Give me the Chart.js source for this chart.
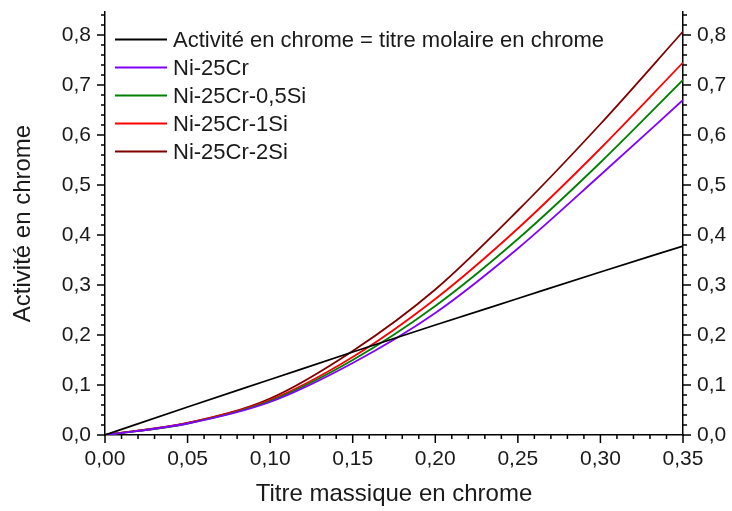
<!DOCTYPE html>
<html>
<head>
<meta charset="utf-8">
<script src="https://cdn.jsdelivr.net/npm/chart.js@4/dist/chart.umd.min.js"></script>
<style>
  html, body { margin: 0; padding: 0; background: #fff; }
  #wrap { width: 732px; height: 511px; }
</style>
</head>
<body>
<div id="wrap"><canvas id="activityChart"></canvas></div>
<script>
// titre massique en chrome (x)
const titreMassique = [0, 0.05, 0.10, 0.15, 0.20, 0.25, 0.30, 0.35];

// activité en chrome
const titreMolaire   = [0, 0.056, 0.111, 0.166, 0.220, 0.273, 0.326, 0.378];
const ni25Cr         = [0, 0.023, 0.066, 0.144, 0.244, 0.373, 0.520, 0.670];
const ni25Cr05Si     = [0, 0.023, 0.068, 0.150, 0.258, 0.392, 0.545, 0.710];
const ni25Cr1Si      = [0, 0.024, 0.070, 0.156, 0.272, 0.413, 0.573, 0.745];
const ni25Cr2Si      = [0, 0.024, 0.073, 0.168, 0.291, 0.449, 0.622, 0.807];

const seriesLabels = [
  "Activité en chrome = titre molaire en chrome",
  "Ni-25Cr",
  "Ni-25Cr-0,5Si",
  "Ni-25Cr-1Si",
  "Ni-25Cr-2Si"
];
const seriesColors = ["#000000", "#8000ff", "#008000", "#ff0000", "#800000"];

const xTicks = [0, 0.05, 0.10, 0.15, 0.20, 0.25, 0.30, 0.35];
const yTicks = [0, 0.1, 0.2, 0.3, 0.4, 0.5, 0.6, 0.7, 0.8];

const FONT = "'Liberation Sans', Arial, sans-serif";
const TEXT = "#1a1a1a";

function toPoints(ys) {
  return titreMassique.map((x, i) => ({x: x, y: ys[i]}));
}

function frComma(v, digits) {
  return v.toFixed(digits).replace('.', ',');
}

// ticks drawn by hand: major outward + minor
const axisTicks = {
  id: 'axisTicks',
  afterDraw(chart) {
    const ctx = chart.ctx;
    const x = chart.scales.x, y = chart.scales.y;
    const area = chart.chartArea;
    ctx.save();
    ctx.strokeStyle = '#000';
    ctx.lineWidth = 1.5;
    ctx.beginPath();
    for (let i = 0; i <= 35; i++) {
      const v = i / 100;
      const px = x.getPixelForValue(v);
      const len = (i % 5 == 0) ? 8 : 4;
      ctx.moveTo(px, area.bottom);
      ctx.lineTo(px, area.bottom + len);
    }
    for (let i = 0; i <= 42; i++) {
      const v = i / 50;
      const py = y.getPixelForValue(v);
      if (py < area.top - 0.5) continue;
      const len = (i % 5 == 0) ? 8 : 4;
      ctx.moveTo(area.left, py);
      ctx.lineTo(area.left - len, py);
      ctx.moveTo(area.right, py);
      ctx.lineTo(area.right + len, py);
    }
    ctx.stroke();
    ctx.restore();
  }
};

// legend inside the plot, top left
const innerLegend = {
  id: 'innerLegend',
  afterDraw(chart) {
    const ctx = chart.ctx;
    ctx.save();
    ctx.font = "22px " + FONT;
    ctx.textBaseline = 'middle';
    ctx.fillStyle = TEXT;
    chart.data.datasets.forEach((ds, i) => {
      const yy = 39.5 + i * 28;
      ctx.strokeStyle = ds.borderColor;
      ctx.lineWidth = 2;
      ctx.beginPath();
      ctx.moveTo(115, yy);
      ctx.lineTo(167, yy);
      ctx.stroke();
      ctx.fillText(ds.label, 173, yy + 1);
    });
    ctx.restore();
  }
};

const datasets = [titreMolaire, ni25Cr, ni25Cr05Si, ni25Cr1Si, ni25Cr2Si].map((d, i) => ({
  label: seriesLabels[i],
  data: toPoints(d),
  borderColor: seriesColors[i],
  backgroundColor: seriesColors[i],
  borderWidth: 1.8,
  pointRadius: 0,
  cubicInterpolationMode: 'monotone',
  fill: false
}));

const tickFont = {family: FONT, size: 21};

function fitY(width) {
  return function(scale) {
    scale.width = width;
    scale.paddingTop = 0;
    scale.paddingBottom = 0;
  };
}

new Chart(document.getElementById("activityChart"), {
  type: 'line',
  data: {datasets: datasets},
  options: {
    responsive: true,
    maintainAspectRatio: false,
    animation: false,
    events: [],
    layout: {padding: {top: 12, left: 0, right: 0, bottom: 0}},
    plugins: {legend: {display: false}, tooltip: {enabled: false}},
    scales: {
      x: {
        type: 'linear',
        min: 0,
        max: 0.35,
        afterFit: function(scale) {
          scale.height = 76;
          scale.paddingLeft = 0;
          scale.paddingRight = 0;
        },
        afterBuildTicks: function(scale) { scale.ticks = xTicks.map(v => ({value: v})); },
        grid: {display: false, drawTicks: false},
        border: {display: true, color: '#000', width: 1.5},
        ticks: {
          font: tickFont,
          color: TEXT,
          padding: 12,
          maxRotation: 0,
          autoSkip: false,
          callback: function(value) { return frComma(value, 2); }
        },
        title: {
          display: true,
          text: 'Titre massique en chrome',
          font: {family: FONT, size: 24},
          color: TEXT,
          padding: {top: 0, bottom: 2}
        }
      },
      y: {
        position: 'left',
        min: 0,
        max: 0.846,
        afterFit: fitY(105),
        afterBuildTicks: function(scale) { scale.ticks = yTicks.map(v => ({value: v})); },
        grid: {display: false, drawTicks: false},
        border: {display: true, color: '#000', width: 1.5},
        ticks: {
          font: tickFont,
          color: TEXT,
          padding: 14,
          autoSkip: false,
          callback: function(value) { return frComma(value, 1); }
        },
        title: {
          display: true,
          text: 'Activité en chrome',
          font: {family: FONT, size: 24},
          color: TEXT,
          padding: {top: 9, bottom: 0}
        }
      },
      y2: {
        position: 'right',
        min: 0,
        max: 0.846,
        afterFit: fitY(49),
        afterBuildTicks: function(scale) { scale.ticks = yTicks.map(v => ({value: v})); },
        grid: {display: false, drawTicks: false},
        border: {display: true, color: '#000', width: 1.5},
        ticks: {
          font: tickFont,
          color: TEXT,
          padding: 14,
          autoSkip: false,
          callback: function(value) { return frComma(value, 1); }
        }
      }
    }
  },
  plugins: [axisTicks, innerLegend]
});
</script>
</body>
</html>
